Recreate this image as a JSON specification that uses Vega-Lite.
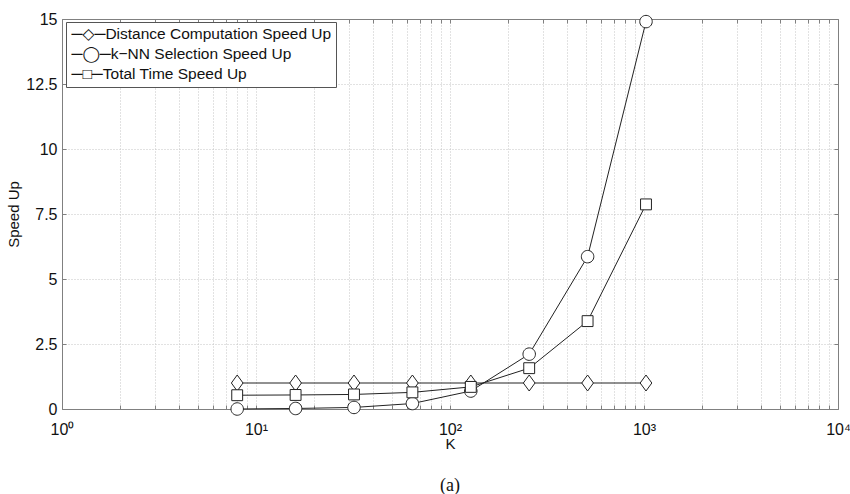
{
  "$schema": "https://vega.github.io/schema/vega-lite/v6.json",
  "width": 776,
  "height": 390,
  "autosize": {"type": "none"},
  "padding": {"left": 62, "top": 19, "right": 12, "bottom": 85},
  "background": "white",
  "title": {"text": "(a)", "orient": "bottom", "anchor": "middle", "font": "Liberation Serif", "fontSize": 18, "fontWeight": "normal", "color": "#111", "offset": 26},
  "config": {
    "view": {"stroke": null},
    "axis": {
      "domainColor": "#808080", "tickColor": "#808080", "gridColor": "#c4c4c4", "gridDash": [1, 2], "gridWidth": 1,
      "labelFont": "Liberation Sans", "labelFontSize": 16, "labelColor": "#111",
      "titleFont": "Liberation Sans", "titleFontSize": 15, "titleFontWeight": "normal", "titleColor": "#111"
    }
  },
  "data": {"values": [
    {"series": "Distance Computation Speed Up", "K": 8, "speedup": 1.0},
    {"series": "Distance Computation Speed Up", "K": 16, "speedup": 1.0},
    {"series": "Distance Computation Speed Up", "K": 32, "speedup": 1.0},
    {"series": "Distance Computation Speed Up", "K": 64, "speedup": 1.0},
    {"series": "Distance Computation Speed Up", "K": 128, "speedup": 1.0},
    {"series": "Distance Computation Speed Up", "K": 256, "speedup": 1.0},
    {"series": "Distance Computation Speed Up", "K": 512, "speedup": 1.0},
    {"series": "Distance Computation Speed Up", "K": 1024, "speedup": 1.0},
    {"series": "k−NN Selection Speed Up", "K": 8, "speedup": 0.0},
    {"series": "k−NN Selection Speed Up", "K": 16, "speedup": 0.02},
    {"series": "k−NN Selection Speed Up", "K": 32, "speedup": 0.06},
    {"series": "k−NN Selection Speed Up", "K": 64, "speedup": 0.21},
    {"series": "k−NN Selection Speed Up", "K": 128, "speedup": 0.69},
    {"series": "k−NN Selection Speed Up", "K": 256, "speedup": 2.11},
    {"series": "k−NN Selection Speed Up", "K": 512, "speedup": 5.86},
    {"series": "k−NN Selection Speed Up", "K": 1024, "speedup": 14.9},
    {"series": "Total Time Speed Up", "K": 8, "speedup": 0.53},
    {"series": "Total Time Speed Up", "K": 16, "speedup": 0.54},
    {"series": "Total Time Speed Up", "K": 32, "speedup": 0.56},
    {"series": "Total Time Speed Up", "K": 64, "speedup": 0.64},
    {"series": "Total Time Speed Up", "K": 128, "speedup": 0.85},
    {"series": "Total Time Speed Up", "K": 256, "speedup": 1.57},
    {"series": "Total Time Speed Up", "K": 512, "speedup": 3.38},
    {"series": "Total Time Speed Up", "K": 1024, "speedup": 7.87}
  ]},
  "resolve": {"axis": {"x": "independent", "y": "independent"}},
  "layer": [
    {
      "mark": {"type": "line", "color": "#222", "strokeWidth": 1},
      "encoding": {
        "x": {"field": "K", "type": "quantitative",
          "scale": {"type": "log", "domain": [1, 10000], "nice": false},
          "axis": {"orient": "bottom", "title": "K", "titlePadding": -1,
            "values": [1,2,3,4,5,6,7,8,9,10,20,30,40,50,60,70,80,90,100,200,300,400,500,600,700,800,900,1000,2000,3000,4000,5000,6000,7000,8000,9000,10000],
            "labelExpr": "datum.value == 1 ? '10⁰' : datum.value == 10 ? '10¹' : datum.value == 100 ? '10²' : datum.value == 1000 ? '10³' : datum.value == 10000 ? '10⁴' : ''",
            "tickSize": -4, "labelPadding": 16, "labelOverlap": false, "grid": true, "labelFlush": false}},
        "y": {"field": "speedup", "type": "quantitative",
          "scale": {"domain": [0, 15], "nice": false, "zero": false},
          "axis": {"orient": "left", "title": "Speed Up", "values": [0, 2.5, 5, 7.5, 10, 12.5, 15],
            "labelExpr": "datum.value % 1 == 0 ? format(datum.value, 'd') : format(datum.value, '.1f')",
            "tickSize": -4, "labelPadding": 9, "grid": true, "titlePadding": 4}},
        "detail": {"field": "series"}
      }
    },
    {
      "mark": {"type": "point", "filled": true, "fill": "white", "stroke": "#222", "strokeWidth": 1, "opacity": 1, "size": 256},
      "encoding": {
        "x": {"field": "K", "type": "quantitative",
          "scale": {"type": "log", "domain": [1, 10000], "nice": false},
          "axis": {"orient": "top", "title": null, "labels": false, "grid": false, "tickSize": -4,
            "values": [1,2,3,4,5,6,7,8,9,10,20,30,40,50,60,70,80,90,100,200,300,400,500,600,700,800,900,1000,2000,3000,4000,5000,6000,7000,8000,9000,10000]}},
        "y": {"field": "speedup", "type": "quantitative",
          "scale": {"domain": [0, 15], "nice": false, "zero": false},
          "axis": {"orient": "right", "title": null, "labels": false, "grid": false, "tickSize": -4, "values": [0, 2.5, 5, 7.5, 10, 12.5, 15]}},
        "shape": {"field": "series", "type": "nominal",
          "scale": {"domain": ["Distance Computation Speed Up", "k−NN Selection Speed Up", "Total Time Speed Up"],
            "range": ["M0,-1L0.73,0L0,1L-0.73,0Z", "M-0.78,0A0.78,0.78,0,1,1,0.78,0A0.78,0.78,0,1,1,-0.78,0Z", "M-0.68,-0.68L0.68,-0.68L0.68,0.68L-0.68,0.68Z"]},
          "legend": {
            "title": null, "orient": "none", "legendX": 4, "legendY": 3,
            "strokeColor": "#555", "fillColor": "white", "padding": 4, "rowPadding": 3,
            "labelFont": "Liberation Sans, DejaVu Sans", "labelFontSize": 15.5, "labelColor": "#111", "labelLimit": 400,
            "labelOffset": -14, "symbolOffset": 0, "symbolSize": 1, "symbolOpacity": 0,
            "labelExpr": "(datum.label == 'Distance Computation Speed Up' ? '─◇─' : datum.label == 'Total Time Speed Up' ? '─□─' : '─◯─') + datum.label"
          }
        }
      }
    }
  ]
}
